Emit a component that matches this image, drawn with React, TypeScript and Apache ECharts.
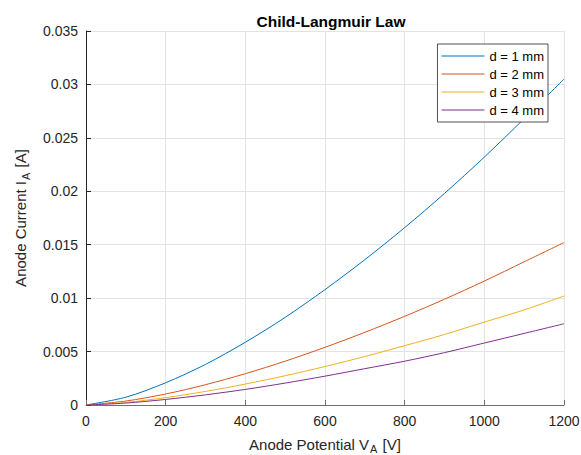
import React, { useEffect, useRef } from "react";
import * as echarts from "echarts";

const voltages = [0, 100, 200, 300, 400, 500, 600, 700, 800, 900, 1000, 1100, 1200];
const seriesNames = ["d = 1 mm", "d = 2 mm", "d = 3 mm", "d = 4 mm"];
const current1mm = [0, 0.00073, 0.00208, 0.0038, 0.00587, 0.0082, 0.0108, 0.0136, 0.0166, 0.0198, 0.0232, 0.0268, 0.0305];
const current2mm = [0, 0.00037, 0.00103, 0.0019, 0.00293, 0.0041, 0.0054, 0.0068, 0.0083, 0.0099, 0.0116, 0.0134, 0.0152];
const current3mm = [0, 0.00024, 0.00069, 0.00127, 0.00196, 0.00274, 0.0036, 0.00454, 0.00555, 0.0066, 0.00776, 0.0089, 0.0102];
const current4mm = [0, 0.00018, 0.00052, 0.00095, 0.00146, 0.00205, 0.0027, 0.0034, 0.0041, 0.0049, 0.0058, 0.0067, 0.0076];
const colors = ["#0072BD", "#D95319", "#EDB120", "#7E2F8E"];

const FONT = "'Liberation Sans', Arial, Helvetica, sans-serif";
const TXT = "#262626";
const LEGEND_ICON = "path://M0,0 M0,6.5 L43,6.5 L43,7.5 L0,7.5 Z M43,14";

export default function App() {
  const ref = useRef<HTMLDivElement>(null);
  useEffect(() => {
    if (!ref.current) return;
    const chart = echarts.init(ref.current, undefined, { renderer: "svg" });
    const all = [current1mm, current2mm, current3mm, current4mm];
    const nameRich = {
      t: { fontFamily: FONT, fontSize: 15, color: TXT, lineHeight: 18, verticalAlign: "top" },
      s: { fontFamily: FONT, fontSize: 11, color: TXT, lineHeight: 18, padding: [11, 1, 0, 1], verticalAlign: "bottom" },
    };
    chart.setOption({
      animation: false,
      backgroundColor: "#ffffff",
      title: {
        text: "Child-Langmuir Law",
        left: 326,
        top: 8,
        textAlign: "center",
        textStyle: { fontFamily: FONT, fontSize: 15.5, fontWeight: "bold", color: "#000" },
      },
      grid: { left: 86, right: 17, top: 31, bottom: 50, containLabel: false, outerBoundsMode: "none" },
      legend: {
        orient: "vertical",
        right: 33,
        top: 44,
        data: seriesNames.map((n) => ({ name: n, icon: LEGEND_ICON })),
        itemWidth: 43,
        itemHeight: 14,
        itemGap: 4,
        padding: [5, 4, 5, 4],
        backgroundColor: "#ffffff",
        borderColor: TXT,
        borderWidth: 0.8,
        borderRadius: 0,
        textStyle: { fontFamily: FONT, fontSize: 13, color: "#000" },
      },
      xAxis: {
        type: "value",
        min: 0,
        max: 1200,
        interval: 200,
        name: "{t|Anode Potential V}{s|A}{t| [V]}",
        nameLocation: "middle",
        nameGap: 27,
        nameTextStyle: { rich: nameRich },
        axisLine: { show: true, lineStyle: { color: "#6e6e6e", width: 1 } },
        axisTick: { show: true, inside: true, length: 5, lineStyle: { color: "#6e6e6e" } },
        axisLabel: {
          fontFamily: FONT,
          fontSize: 14,
          color: TXT,
          margin: 9,
          formatter: (v: number) => String(v),
        },
        splitLine: { show: true, lineStyle: { color: "#e3e3e3", width: 1 } },
      },
      yAxis: {
        type: "value",
        min: 0,
        max: 0.035,
        interval: 0.005,
        name: "{t|Anode Current I}{s|A}{t| [A]}",
        nameLocation: "middle",
        nameGap: 55,
        nameRotate: 90,
        nameTextStyle: { rich: nameRich },
        axisLine: { show: true, lineStyle: { color: TXT, width: 1 } },
        axisTick: { show: true, inside: true, length: 5, lineStyle: { color: TXT } },
        axisLabel: {
          fontFamily: FONT,
          fontSize: 14,
          color: TXT,
          margin: 8,
          formatter: (v: number) => (v === 0 ? "0" : String(parseFloat(v.toFixed(4)))),
        },
        splitLine: { show: true, lineStyle: { color: "#e3e3e3", width: 1 } },
      },
      series: all.map((vals, i) => ({
        name: seriesNames[i],
        type: "line",
        data: voltages.map((v, j) => [v, vals[j]]),
        smooth: 0.3,
        showSymbol: false,
        symbol: "none",
        lineStyle: { color: colors[i], width: 1 },
        itemStyle: { color: colors[i] },
        z: 3,
      })),
    });
    return () => chart.dispose();
  }, []);
  return <div ref={ref} style={{ position: "fixed", left: 0, top: 0, width: 581, height: 455 }} />;
}
